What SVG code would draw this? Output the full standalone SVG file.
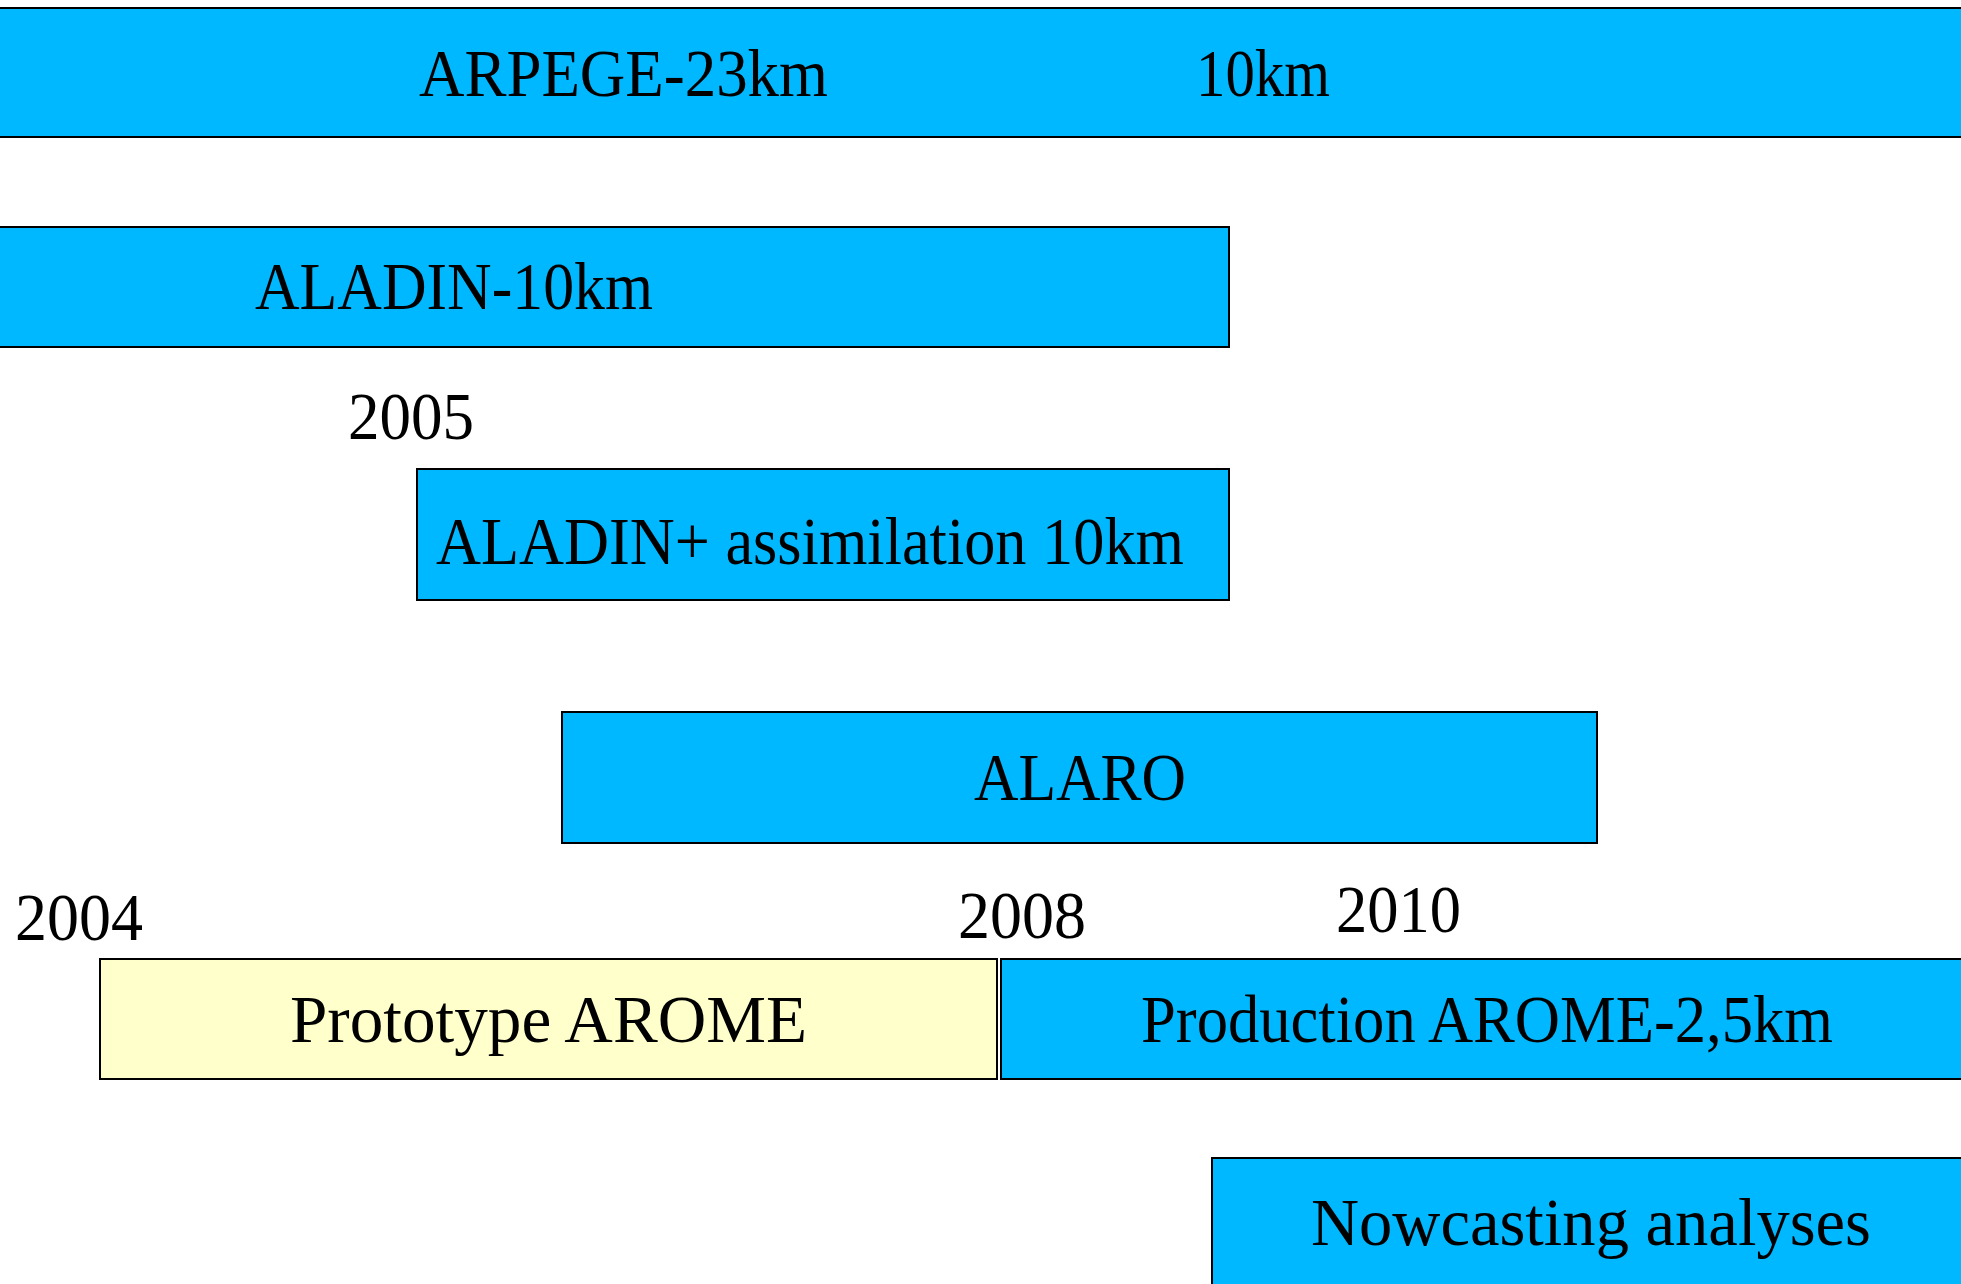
<svg xmlns="http://www.w3.org/2000/svg" width="1961" height="1284" viewBox="0 0 1961 1284">
<style>
.bar{fill:#00b8ff;stroke:#000;stroke-width:2}
.proto{fill:#ffffcc;stroke:#000;stroke-width:2}
text{font-family:"Liberation Serif","Times New Roman",serif;font-size:67px;fill:#000}
</style>
<rect width="1961" height="1284" fill="#fff"/>
<g id="arpege">
<rect class="bar" x="-3" y="8" width="1970" height="129"/>
<text x="419" y="96" textLength="409" lengthAdjust="spacingAndGlyphs">ARPEGE-23km</text>
<text x="1196" y="96" textLength="134" lengthAdjust="spacingAndGlyphs">10km</text>
</g>
<g id="aladin10">
<rect class="bar" x="-3" y="227" width="1232" height="120"/>
<text x="255" y="309" textLength="398" lengthAdjust="spacingAndGlyphs">ALADIN-10km</text>
</g>
<g id="y2005"><text x="348" y="439" textLength="126" lengthAdjust="spacingAndGlyphs">2005</text></g>
<g id="aladinassim">
<rect class="bar" x="417" y="469" width="812" height="131"/>
<text x="436" y="564" textLength="748" lengthAdjust="spacingAndGlyphs">ALADIN+ assimilation 10km</text>
</g>
<g id="alaro">
<rect class="bar" x="562" y="712" width="1035" height="131"/>
<text x="974" y="800" textLength="212" lengthAdjust="spacingAndGlyphs">ALARO</text>
</g>
<g id="y2004"><text x="15" y="940" textLength="128" lengthAdjust="spacingAndGlyphs">2004</text></g>
<g id="y2008"><text x="958" y="938" textLength="128" lengthAdjust="spacingAndGlyphs">2008</text></g>
<g id="y2010"><text x="1336" y="932" textLength="125" lengthAdjust="spacingAndGlyphs">2010</text></g>
<g id="prototype">
<rect class="proto" x="100" y="959" width="897" height="120"/>
<text x="290" y="1042" textLength="517" lengthAdjust="spacingAndGlyphs">Prototype AROME</text>
</g>
<g id="production">
<rect class="bar" x="1001" y="959" width="965" height="120"/>
<text x="1141" y="1042" textLength="692" lengthAdjust="spacingAndGlyphs">Production AROME-2,5km</text>
</g>
<g id="nowcasting">
<rect class="bar" x="1212" y="1158" width="755" height="135"/>
<text x="1311" y="1245" textLength="560" lengthAdjust="spacingAndGlyphs">Nowcasting analyses</text>
</g>
<g id="connectors"/>
</svg>
